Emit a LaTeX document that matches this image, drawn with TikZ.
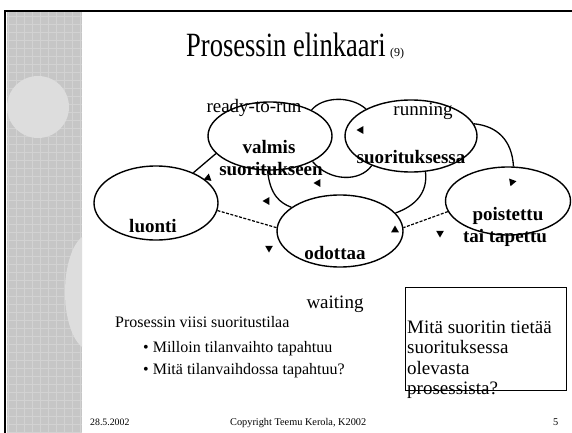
\documentclass[tikz,border=0pt]{standalone}
\usepackage{fontspec}
\setmainfont{Liberation Serif}
\usetikzlibrary{shapes.geometric}
\definecolor{stripgray}{RGB}{198,198,198}
\definecolor{stripline}{RGB}{210,210,210}
\definecolor{lightblob}{RGB}{221,221,221}
\begin{document}
\begin{tikzpicture}[x=1pt,y=-1pt,
  stateell/.style={draw, ellipse, line width=1.4pt, inner sep=0pt},
  conn/.style={line width=1.3pt},
  dconn/.style={line width=1.2pt, dash pattern=on 3pt off 1.5pt},
  ahead/.style={regular polygon, regular polygon sides=3, fill=black, draw=none,
    inner sep=0pt, minimum size=9pt, shape border rotate=#1},
  lbl/.style={font=\fontsize{19}{19}\selectfont, inner sep=0pt, anchor=base},
  blbl/.style={font=\fontsize{19}{19}\selectfont\bfseries, inner sep=0pt, anchor=base},
  body/.style={font=\fontsize{16}{16}\selectfont, inner sep=0pt, anchor=base west},
  boxtxt/.style={font=\fontsize{19}{19}\selectfont, inner sep=0pt, anchor=base west},
  foot/.style={font=\fontsize{10.3}{11}\selectfont, inner sep=0pt, anchor=base west}
]
\useasboundingbox (0,0) rectangle (572,433);
\fill[white] (0,0) rectangle (572,433);
% left decorative strip
\fill[stripgray] (7,12) rectangle (82,433);
\draw[stripline, line width=0.7pt, step=8pt] (7,12) grid (82,433);
\fill[lightblob] (38,107) circle [radius=31];
\begin{scope}
  \clip (7,12) rectangle (82,433);
  \fill[lightblob] (90,292) ellipse [x radius=25, y radius=58];
\end{scope}
% frame lines
\draw[line width=1.6pt] (5,11) -- (572,11);
\draw[line width=2pt] (5,10.2) -- (5,433);

% title
\node[inner sep=0pt, anchor=base west] (title) at (186,57)
  {\scalebox{0.78}[1]{\fontsize{34}{34}\selectfont Prosessin elinkaari}};
\node[inner sep=0pt, anchor=base west, font=\fontsize{12}{12}\selectfont] (titlenum) at (title.base east) {\hspace{4pt}(9)};

% labels
\node[lbl] (lready) at (254,113) {ready-to-run};
\node[lbl] (lrunning) at (423,115) {running};
\node[lbl] (lwaiting) at (335,308) {waiting};
\node[blbl] (tvalmis) at (269,153) {valmis};
\node[blbl] (tvalmis2) at (271,175) {suoritukseen};
\node[blbl] (trun) at (411,163) {suorituksessa};
\node[blbl] (tpois) at (508,220) {poistettu};
\node[blbl] (tpois2) at (505,242) {tai tapettu};
\node[blbl] (tluonti) at (153,232) {luonti};
\node[blbl] (todottaa) at (335,259) {odottaa};

% states
\node[stateell, minimum width=124pt, minimum height=68pt] (valmis) at (270,136) {};
\node[stateell, minimum width=132pt, minimum height=72pt] (running) at (411,136) {};
\node[stateell, minimum width=124pt, minimum height=74pt] (luonti) at (156,203) {};
\node[stateell, minimum width=126pt, minimum height=72pt] (odottaa) at (340,231) {};
\node[stateell, minimum width=125pt, minimum height=68pt] (poistettu) at (508,201) {};

% connectors
\draw[conn] (valmis.32) .. controls (322,97) and (350,95) .. (running.149);
\draw[conn] (valmis.-31) .. controls (330,182) and (360,182) .. (running.-143);
\draw[conn] (running.11) .. controls (497,126) and (512,140) .. (poistettu.81);
\draw[conn] (running.-68) .. controls (428,193) and (415,206) .. (odottaa.18);
\draw[dconn] (poistettu.190) -- (odottaa.3);
\draw[conn] (valmis.198) -- (luonti.39);
\draw[dconn] (luonti.-7) -- (odottaa.177);
\draw[conn] (valmis.-94) .. controls (270,195) and (280,203) .. (odottaa.154);

% arrowheads
\node[ahead=-10] (a1) at (208,178) {};
\node[ahead=90] (a2) at (267,201) {};
\node[ahead=60] (a3) at (269,248) {};
\node[ahead=90] (a4) at (361,130) {};
\node[ahead=90] (a5) at (318,183) {};
\node[ahead=160] (a6) at (512,182) {};
\node[ahead=180] (a7) at (440,233) {};
\node[ahead=0] (a8) at (395,230) {};

% body text
\node[body] (b0) at (115,327) {Prosessin viisi suoritustilaa};
\node[body] (b1) at (143,352) {• Milloin tilanvaihto tapahtuu};
\node[body] (b2) at (143,374) {• Mitä tilanvaihdossa tapahtuu?};

% question box
\node[draw, line width=1.3pt, minimum width=161pt, minimum height=103pt, anchor=north west, inner sep=0pt] (qbox) at (405,287) {};
\node[boxtxt] (q1) at (407,333) {Mitä suoritin tietää};
\node[boxtxt] (q2) at (407,353.5) {suorituksessa};
\node[boxtxt] (q3) at (407,374) {olevasta};
\node[boxtxt] (q4) at (407,394.5) {prosessista?};

% footer
\node[foot, font=\fontsize{9.8}{10}\selectfont] (fdate) at (90,425) {28.5.2002};
\node[foot] (fcopy) at (230,425) {Copyright Teemu Kerola, K2002};
\node[foot] (fnum) at (553,425) {5};
\end{tikzpicture}
\end{document}
